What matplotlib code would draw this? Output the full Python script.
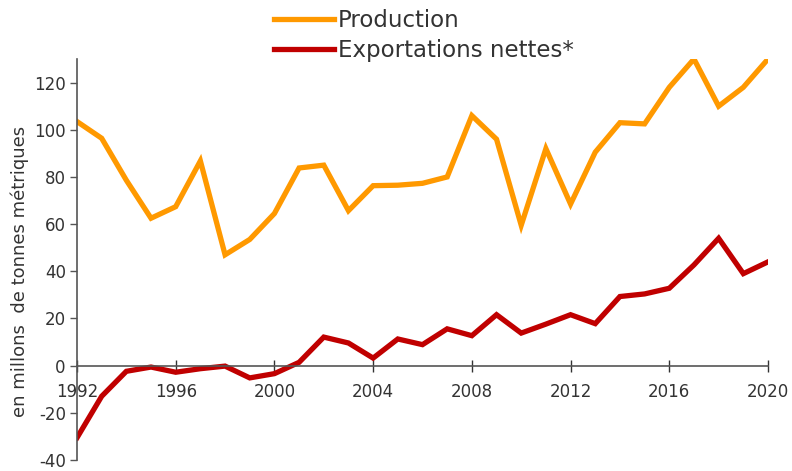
import numpy as np
import matplotlib.pyplot as plt

plt.rcParams["axes.unicode_minus"] = False

years = np.arange(1992, 2021)
production = [103.5, 96.4, 78.6, 62.5, 67.4, 86.8, 47, 53.5, 64.5, 83.8,
              85, 65.7, 76.3, 76.5, 77.3, 80, 106, 96, 59.5, 92,
              68.5, 90.5, 103, 102.5, 118, 130, 110, 118, 130]
exports = [-30.6, -13, -2.4, -0.6, -2.8, -1.3, -0.2, -5.2, -3.4, 1.4,
           12.1, 9.6, 3.2, 11.3, 8.9, 15.6, 12.7, 21.6, 13.8, 17.6,
           21.6, 17.8, 29.3, 30.4, 32.8, 42.7, 54, 39, 44]
xticks = [1992, 1996, 2000, 2004, 2008, 2012, 2016, 2020]
yticks = [-40, -20, 0, 20, 40, 60, 80, 100, 120]

fig = plt.figure(figsize=(7.92, 4.71), dpi=100)
ax = fig.add_axes([0.0972, 0.0234, 0.8725, 0.8513])

ax.plot(years, production, color="#FF9900", lw=3.8, label="Production",
        solid_joinstyle="miter")
ax.plot(years, exports, color="#C00000", lw=3.8, label="Exportations nettes*",
        solid_joinstyle="miter")

ax.set_xlim(1992, 2020)
ax.set_ylim(-40, 130)
ax.set_xticks(xticks)
ax.set_yticks(yticks)

gray = "#555555"
ax.spines["top"].set_visible(False)
ax.spines["right"].set_visible(False)
ax.spines["bottom"].set_position(("data", 0))
ax.spines["bottom"].set_color(gray)
ax.spines["left"].set_color(gray)
ax.spines["bottom"].set_linewidth(1.2)
ax.spines["left"].set_linewidth(1.2)

ax.tick_params(axis="x", direction="inout", length=9, width=1, color="#333333",
               labelsize=12, pad=8, labelcolor="#333333")
ax.tick_params(axis="y", direction="out", length=5, width=1, color=gray,
               labelsize=12, pad=3, labelcolor="#333333")

ax.set_ylabel("en millons  de tonnes métriques", fontsize=13, color="#333333")
ax.yaxis.set_label_coords(-0.07, 0.47)

fig.legend(loc="upper left", bbox_to_anchor=(0.32, 1.025), frameon=False,
           fontsize=16.5, handlelength=2.6, handletextpad=0.2, labelspacing=0.3,
           labelcolor="#333333")

fig.savefig("out.png", dpi=100)
